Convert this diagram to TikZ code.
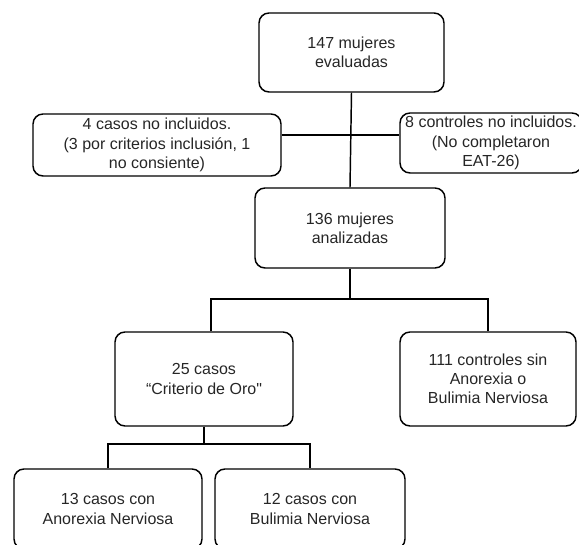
\documentclass[tikz,border=0pt]{standalone}
\usepackage{fontspec}
\setmainfont{Liberation Sans}

\begin{document}
\begin{tikzpicture}[x=0.75pt,y=-0.75pt,line width=1.1pt,
    caja/.style={draw,rounded corners=7.5pt,align=center,inner sep=0pt,
        font=\fontsize{12}{14.4}\selectfont,text=black!85}]
                \clip (0,0) rectangle (579,545);
                \node[caja,minimum width=138.75pt,minimum height=59.25pt] (b147) at (351.5,52.5) {147 mujeres\\evaluadas};
                \node[caja,minimum width=186pt,minimum height=46.5pt] (b4) at (157,145) {4 casos no incluidos.\\(3 por criterios inclusión, 1\\no consiente)};
                \node[caja,minimum width=136.5pt,minimum height=45pt] (b8) at (491,143) {8 controles no incluidos.\\(No completaron\\EAT-26)};
                \node[caja,minimum width=142.5pt,minimum height=60pt] (b136) at (350,228) {136 mujeres\\analizadas};
                \node[caja,minimum width=133.5pt,minimum height=70.5pt] (b25) at (204,379) {25 casos\\“Criterio de Oro\textquotedbl};
                \node[caja,minimum width=132pt,minimum height=70.5pt] (b111) at (488,379) {111 controles sin\\Anorexia o\\Bulimia Nerviosa};
                \node[caja,minimum width=141pt,minimum height=60pt] (b13) at (108,509) {13 casos con\\Anorexia Nerviosa};
                \node[caja,minimum width=142.5pt,minimum height=60pt] (b12) at (310,509) {12 casos con\\Bulimia Nerviosa};

                \coordinate (cruce) at (350,135);
                \coordinate (rama1) at (350,299);
                \coordinate (rama2) at (204,444);

                \draw (b147.south) -- (b136.north);
                \draw (b4.east |- cruce) -- (b8.west |- cruce);
                \draw (b136.south) -- (rama1);
                \draw ([xshift=5.25pt]b25.north) |- (rama1) -| (b111.north);
                \draw (b25.south) -- (rama2);
                \draw (b13.north) |- (rama2) -| (b12.north);
            \end{tikzpicture}
\end{document}
